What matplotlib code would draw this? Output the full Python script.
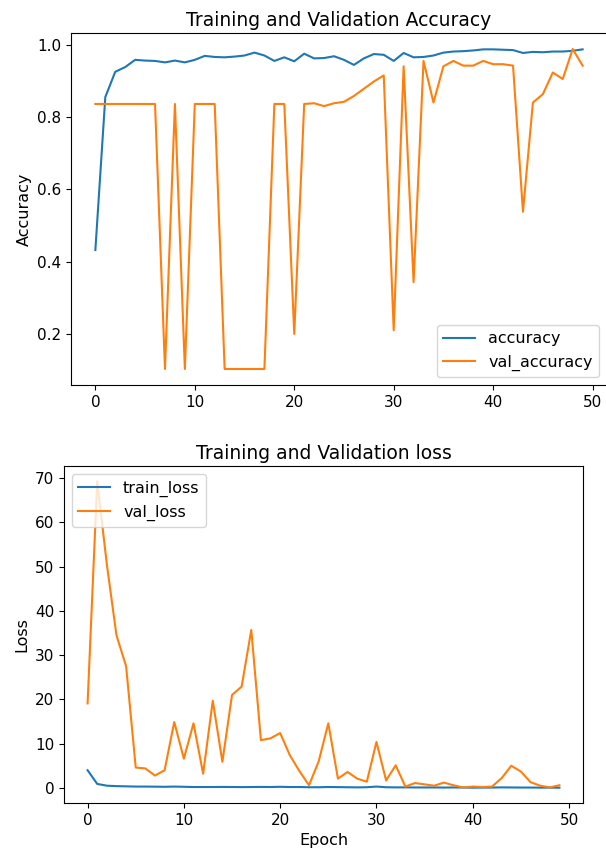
#Importing the required packages
import matplotlib
matplotlib.use('Agg')
import matplotlib.pyplot as plt

#Training history values
epochs = list(range(50))

accuracy = [0.432, 0.855, 0.925, 0.938, 0.958, 0.956, 0.955, 0.951, 0.956, 0.951,
            0.958, 0.969, 0.966, 0.965, 0.967, 0.970, 0.978, 0.970, 0.955, 0.965,
            0.954, 0.975, 0.962, 0.963, 0.968, 0.958, 0.944, 0.962, 0.974, 0.972,
            0.955, 0.977, 0.965, 0.966, 0.970, 0.978, 0.981, 0.982, 0.984, 0.987,
            0.987, 0.986, 0.985, 0.977, 0.980, 0.979, 0.981, 0.981, 0.983, 0.987]

val_accuracy = [0.836, 0.836, 0.836, 0.836, 0.836, 0.836, 0.836, 0.103, 0.836, 0.103,
                0.836, 0.836, 0.836, 0.103, 0.103, 0.103, 0.103, 0.103, 0.836, 0.836,
                0.200, 0.836, 0.838, 0.830, 0.838, 0.842, 0.858, 0.878, 0.898, 0.915,
                0.210, 0.940, 0.343, 0.955, 0.840, 0.940, 0.955, 0.942, 0.942, 0.955,
                0.946, 0.946, 0.942, 0.538, 0.840, 0.863, 0.923, 0.905, 0.988, 0.942]

train_loss = [4.0, 0.9, 0.5, 0.4, 0.35, 0.3, 0.3, 0.28, 0.25, 0.3,
              0.25, 0.2, 0.2, 0.2, 0.22, 0.2, 0.18, 0.2, 0.22, 0.2,
              0.25, 0.2, 0.2, 0.15, 0.15, 0.2, 0.18, 0.15, 0.12, 0.15,
              0.3, 0.15, 0.12, 0.12, 0.1, 0.1, 0.1, 0.08, 0.1, 0.08,
              0.06, 0.07, 0.08, 0.12, 0.1, 0.08, 0.08, 0.06, 0.06, 0.05]

val_loss = [19.1, 69.3, 50.5, 34.5, 27.5, 4.6, 4.4, 2.8, 4.0, 14.9,
            6.6, 14.6, 3.2, 19.7, 5.9, 21.0, 22.9, 35.7, 10.8, 11.2,
            12.4, 7.4, 3.8, 0.6, 6.0, 14.6, 2.1, 3.6, 2.1, 1.4,
            10.4, 1.7, 5.1, 0.3, 1.1, 0.8, 0.5, 1.2, 0.6, 0.1,
            0.3, 0.2, 0.3, 2.2, 5.0, 3.7, 1.3, 0.5, 0.1, 0.6]

W, H = 606, 852
fig = plt.figure(figsize=(W / 100, H / 100), dpi=100)

def px_axes(left, top, right, bottom):
    return fig.add_axes([left / W, 1 - bottom / H, (right - left) / W, (bottom - top) / H])

#Accuracy plot (right edge is cut off in the screenshot)
ax1 = px_axes(71, 33, 607, 385)
ax1.plot(epochs, accuracy, label='accuracy', lw=1.5)
ax1.plot(epochs, val_accuracy, label='val_accuracy', lw=1.5)
ax1.set_title('Training and Validation Accuracy', fontsize=13.5, pad=5)
ax1.set_ylabel('Accuracy', fontsize=11.5)
ax1.tick_params(labelsize=11)
ax1.spines['right'].set_visible(False)
ax1.legend(loc='lower right', fontsize=11.5)

#Loss plot
ax2 = px_axes(64, 466, 583, 803)
ax2.plot(epochs, train_loss, label='train_loss', lw=1.5)
ax2.plot(epochs, val_loss, label='val_loss', lw=1.5)
ax2.set_title('Training and Validation loss', fontsize=13.5, pad=5)
ax2.set_xlabel('Epoch', fontsize=11.5)
ax2.set_ylabel('Loss', fontsize=11.5)
ax2.tick_params(labelsize=11)
ax2.legend(loc='upper left', fontsize=11.5)

plt.savefig('out.png', dpi=100)
